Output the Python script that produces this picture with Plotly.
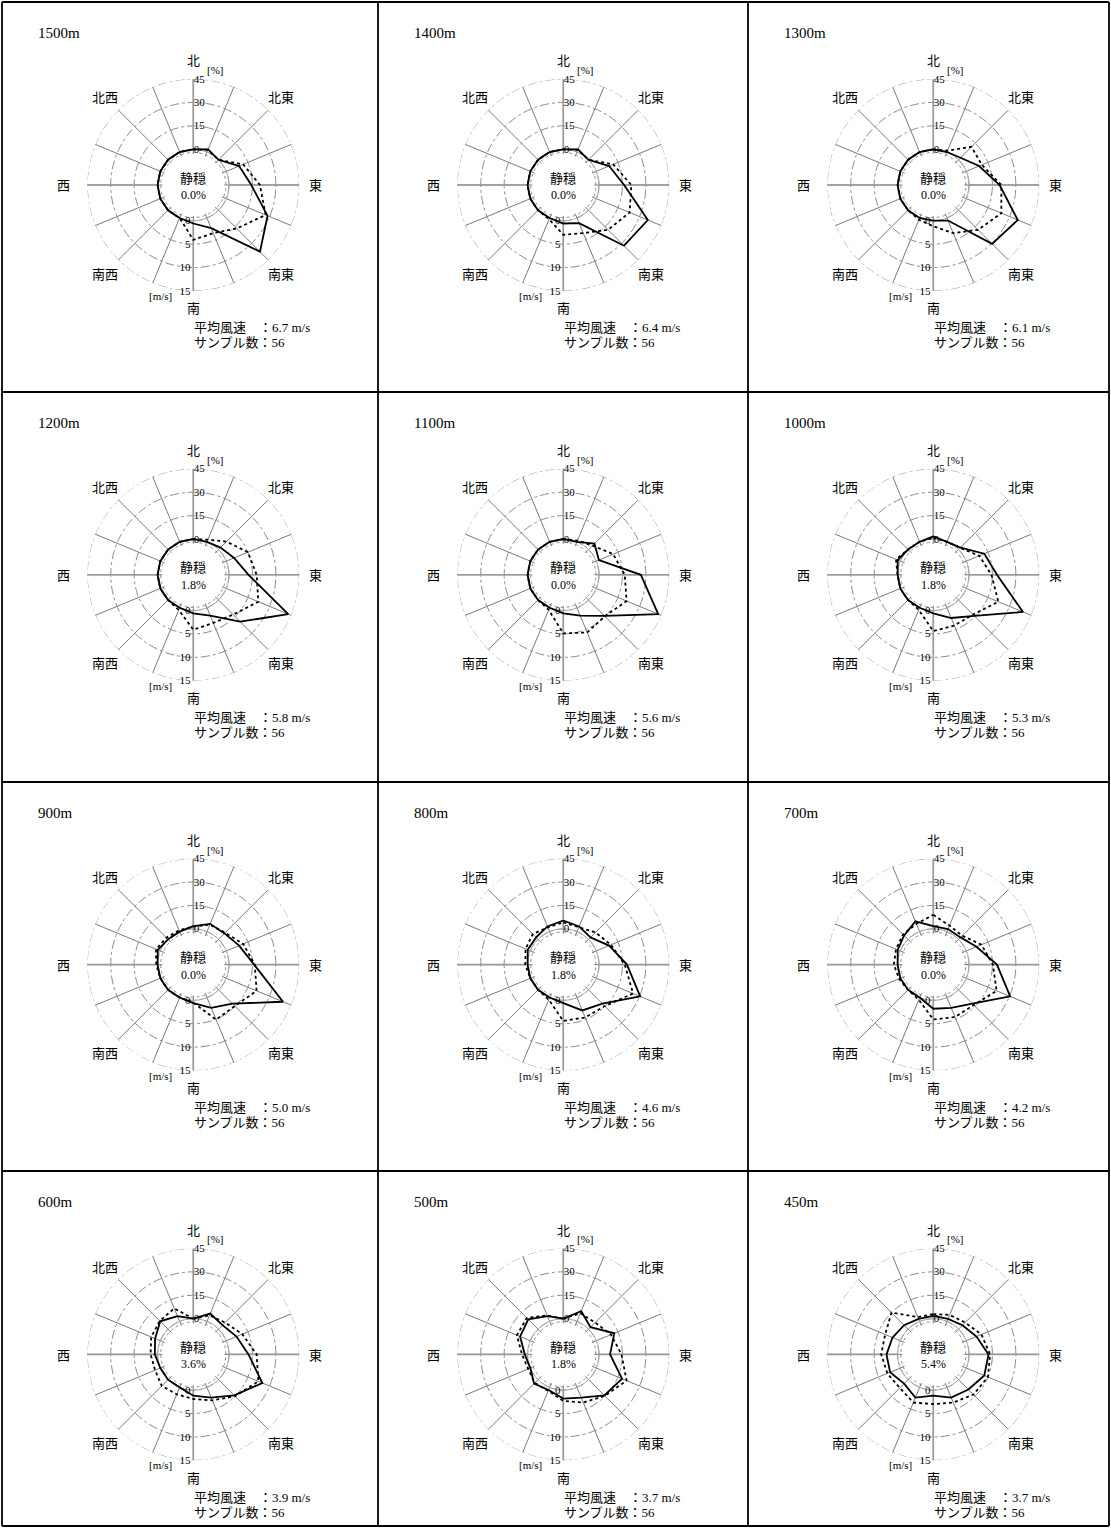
import numpy as np
import plotly.graph_objects as go

# Canvas
W, H = 1111, 1528

# 16 compass directions, clockwise from north
DIR_DEG = [0, 22.5, 45, 67.5, 90, 112.5, 135, 157.5,
           180, 202.5, 225, 247.5, 270, 292.5, 315, 337.5]
# compass labels and their offsets from the rose centre (px)
COMPASS_TEXT = ["北", "北東", "東", "南東", "南", "南西", "西", "北西"]
COMPASS_DX = [0, 88, 122, 88, 0, -88, -130, -88]
COMPASS_DY = [-125, -88, 0, 88, 123, 88, 0, -88]

FREQ_TICKS = [0, 15, 30, 45]      # [%]
SPEED_TICKS = [0, 5, 10, 15]      # [m/s]

HEIGHTS = ["1500m", "1400m", "1300m", "1200m", "1100m", "1000m",
           "900m", "800m", "700m", "600m", "500m", "450m"]
CALM = [0.0, 0.0, 0.0, 1.8, 0.0, 1.8, 0.0, 1.8, 0.0, 3.6, 1.8, 5.4]
MEAN_SPEED = [6.7, 6.4, 6.1, 5.8, 5.6, 5.3, 5.0, 4.6, 4.2, 3.9, 3.7, 3.7]
SAMPLES = [56] * 12

# Frequency of appearance [%] per direction (N, NNE, ... NNW)
FREQ_1500 = [0, 1.8, 0, 8.9, 14.3, 28.6, 37.5, 7.1, 1.8, 0, 0, 0, 0, 0, 0, 0]
FREQ_1400 = [0, 1.8, 0, 8.9, 16.1, 35.7, 32.1, 3.6, 1.8, 0, 0, 0, 0, 0, 0, 0]
FREQ_1300 = [0, 0, 1.8, 8.9, 19.6, 35.7, 30.4, 1.8, 0, 0, 0, 0, 0, 0, 0, 0]
FREQ_1200 = [0, 0, 1.8, 5.4, 12.5, 42.9, 19.6, 5.4, 1.8, 0, 0, 0, 0, 0, 0, 0]
FREQ_1100 = [0, 0, 5.4, 1.8, 26.8, 42.9, 14.3, 5.4, 1.8, 0, 0, 0, 0, 0, 0, 0]
FREQ_1000 = [1.8, 0, 1.8, 12.5, 17.9, 39.3, 14.3, 7.1, 1.8, 0, 0, 0, 0, 1.8, 0, 0]
FREQ_900 = [1.8, 5.4, 5.4, 8.9, 16.1, 39.3, 12.5, 7.1, 1.8, 0, 0, 0, 0, 1.8, 0, 0]
FREQ_800 = [5.4, 3.6, 1.8, 8.9, 17.9, 30.4, 12.5, 8.9, 1.8, 0, 0, 0, 0, 1.8, 1.8, 3.6]
FREQ_700 = [1.8, 1.8, 1.8, 7.1, 17.9, 30.4, 12.5, 7.1, 5.4, 0, 0, 0, 0, 1.8, 3.6, 7.1]
FREQ_600 = [0, 5.4, 3.6, 7.1, 12.5, 25.0, 14.3, 7.1, 3.6, 0, 0, 0, 1.8, 3.6, 7.1, 3.6]
FREQ_500 = [0, 7.1, 1.8, 12.5, 7.1, 17.9, 14.3, 7.1, 5.4, 1.8, 3.6, 0, 1.8, 7.1, 8.9, 3.6]
FREQ_450 = [1.8, 1.8, 3.6, 7.1, 12.5, 12.5, 8.9, 7.1, 3.6, 7.1, 3.6, 7.1, 7.1, 5.4, 3.6, 1.8]

# Mean wind speed [m/s] per direction
SPEED_1500 = [0, 0.5, 0, 3.9, 6.6, 9.1, 5.5, 3.5, 4.1, 0, 0, 0, 0, 0, 0, 0]
SPEED_1400 = [0, 0.5, 0, 3.9, 6.9, 7.7, 5.9, 3.5, 3.0, 0.3, 0, 0, 0, 0, 0, 0]
SPEED_1300 = [0, 0.3, 3.9, 3.6, 6.9, 8.1, 5.9, 3.5, 1.2, 0.4, 0, 0, 0, 0, 0, 0]
SPEED_1200 = [0, 0.5, 2.4, 5.0, 5.9, 7.4, 4.4, 3.5, 4.1, 0.5, 0, 0, 0, 0, 0, 0]
SPEED_1100 = [0, 0.3, 1.2, 3.9, 5.5, 7.0, 4.9, 5.7, 4.9, 0.5, 0, 0, 0, 0, 0, 0]
SPEED_1000 = [0.3, 0, 0.5, 3.0, 4.8, 7.4, 4.4, 4.1, 4.4, 0.5, 0, 0, 0, 1.0, 0, 0]
SPEED_900 = [0.5, 1.6, 2.0, 3.9, 5.5, 7.0, 4.9, 5.1, 0.5, 0, 0, 0, 0.3, 1.0, 0.5, 0.3]
SPEED_800 = [1.4, 1.0, 2.1, 3.4, 5.5, 8.5, 4.9, 4.6, 4.4, 0.5, 0, 0, 0.5, 1.1, 1.6, 1.0]
SPEED_700 = [3.0, 1.4, 1.1, 3.5, 5.1, 7.0, 4.6, 4.5, 4.1, 0.5, 0, 0.3, 0.8, 1.0, 1.5, 1.8]
SPEED_600 = [0, 1.4, 2.0, 3.7, 5.9, 7.4, 5.0, 3.0, 1.9, 1.6, 1.9, 1.2, 1.5, 2.1, 2.5, 3.0]
SPEED_500 = [0, 1.9, 2.0, 3.4, 4.8, 7.0, 4.9, 3.5, 2.3, 0.8, 1.0, 0.5, 1.2, 3.1, 3.4, 1.4]
SPEED_450 = [1.0, 1.5, 2.0, 3.5, 4.5, 5.0, 4.5, 3.5, 3.0, 3.5, 2.5, 3.0, 3.5, 3.5, 5.0, 1.0]

FREQS = [FREQ_1500, FREQ_1400, FREQ_1300, FREQ_1200, FREQ_1100, FREQ_1000,
         FREQ_900, FREQ_800, FREQ_700, FREQ_600, FREQ_500, FREQ_450]
SPEEDS = [SPEED_1500, SPEED_1400, SPEED_1300, SPEED_1200, SPEED_1100, SPEED_1000,
          SPEED_900, SPEED_800, SPEED_700, SPEED_600, SPEED_500, SPEED_450]

# Layout geometry (pixels)
COL_CX = [193.3, 563.3, 933.3]
ROW_CY = [185.0, 574.8, 964.6, 1354.4]
R_OUT = 106.0
HOLE = 31.0 / R_OUT
COL_EDGES = [2, 378, 748, 1109]
ROW_EDGES = [2, 392, 782, 1171, 1526]

FONT = "Liberation Serif, 'Noto Sans CJK JP', serif"
CJK = "'Noto Sans CJK JP', sans-serif"
GRID = "#8c8c8c"
SPOKE = "#7a7a7a"
AXIS = "#9a9a9a"

FREQ_MIN = -3.0          # radial range start: the zero ring sits just outside the hole
SPEED_MIN = FREQ_MIN / 3.0
RING_THETA = list(np.arange(0, 361, 2.0))   # full turn for drawn circles


def px_x(v):
    return v / W


def px_y(v):
    return 1 - v / H


def ring(r, subplot, color, width, dash):
    return go.Scatterpolar(r=[r] * len(RING_THETA), theta=RING_THETA, mode="lines",
                           line=dict(color=color, width=width, dash=dash),
                           hoverinfo="skip", subplot=subplot)


fig = go.Figure()
layout = dict(
    width=W, height=H,
    margin=dict(l=0, r=0, t=0, b=0),
    paper_bgcolor="white", plot_bgcolor="white",
    showlegend=False,
    font=dict(family=FONT, color="black"),
)
annotations = []
shapes = []

for i, name in enumerate(HEIGHTS):
    row, col = divmod(i, 3)
    cx, cy = COL_CX[col], ROW_CY[row]
    dom = dict(x=[px_x(cx - R_OUT), px_x(cx + R_OUT)],
               y=[px_y(cy + R_OUT), px_y(cy - R_OUT)])
    pa = f"polar{2 * i + 1}" if i else "polar"
    pb = f"polar{2 * i + 2}"
    layout[pa] = dict(
        domain=dom, hole=HOLE, bgcolor="rgba(0,0,0,0)",
        radialaxis=dict(range=[FREQ_MIN, 45], angle=90, tickangle=90,
                        tickvals=FREQ_TICKS,
                        ticks="", showline=False, gridcolor=GRID, gridwidth=0.8,
                        griddash="dashdot",
                        tickfont=dict(family=FONT, size=11, color="black")),
        angularaxis=dict(rotation=90, direction="clockwise", tickvals=DIR_DEG,
                         showticklabels=False, ticks="", showline=False,
                         gridcolor=SPOKE, gridwidth=0.7),
    )
    layout[pb] = dict(
        domain=dom, hole=HOLE, bgcolor="rgba(0,0,0,0)",
        radialaxis=dict(range=[SPEED_MIN, 15], angle=270, tickangle=-90,
                        tickvals=SPEED_TICKS,
                        ticks="", showline=False, showgrid=False,
                        tickfont=dict(family=FONT, size=11, color="black")),
        angularaxis=dict(rotation=90, direction="clockwise", visible=False),
    )
    # outer ring, zero ring and dotted calm-zone circle
    fig.add_trace(ring(45, pa, GRID, 0.9, "dashdot"))
    fig.add_trace(ring(0, pa, "#a8a8a8", 1, "solid"))
    fig.add_trace(ring(-2.0, pa, "#8a8a8a", 1, "dot"))
    # main compass axes (N-S, E-W)
    for th in (0, 90, 180, 270):
        fig.add_trace(go.Scatterpolar(r=[0, 45], theta=[th, th], mode="lines",
                                      line=dict(color=AXIS, width=1.6),
                                      hoverinfo="skip", subplot=pa))
    # frequency polygon
    f = FREQS[i]
    fig.add_trace(go.Scatterpolar(r=f + f[:1], theta=DIR_DEG + DIR_DEG[:1],
                                  mode="lines", line=dict(color="black", width=1.8),
                                  subplot=pa))
    # speed polygon
    s = SPEEDS[i]
    fig.add_trace(go.Scatterpolar(r=s + s[:1], theta=DIR_DEG + DIR_DEG[:1],
                                  mode="lines",
                                  line=dict(color="black", width=1.8, dash="dot"),
                                  subplot=pb))

    for txt, dx, dy in zip(COMPASS_TEXT, COMPASS_DX, COMPASS_DY):
        annotations.append(dict(x=px_x(cx + dx), y=px_y(cy + dy), text=txt,
                                showarrow=False, xanchor="center", yanchor="middle",
                                font=dict(family=CJK, size=13)))

    annotations += [
        dict(x=px_x(COL_EDGES[col] + 34), y=px_y(ROW_EDGES[row] + 31), text=name,
             showarrow=False, xanchor="left", yanchor="middle",
             font=dict(family=FONT, size=15)),
        dict(x=px_x(cx), y=px_y(cy - 8), text="静穏", showarrow=False,
             xanchor="center", yanchor="middle", font=dict(family=CJK, size=13)),
        dict(x=px_x(cx), y=px_y(cy + 10), text=f"{CALM[i]:.1f}%", showarrow=False,
             xanchor="center", yanchor="middle", font=dict(family=FONT, size=12)),
        dict(x=px_x(cx + 12), y=px_y(cy - 115), text="[%]", showarrow=False,
             xanchor="left", yanchor="middle", font=dict(family=FONT, size=11)),
        dict(x=px_x(cx - 19), y=px_y(cy + 111), text="[m/s]", showarrow=False,
             xanchor="right", yanchor="middle", font=dict(family=FONT, size=11)),
        dict(x=px_x(cx - 1), y=px_y(cy + 143),
             text=f"平均風速　：{MEAN_SPEED[i]:.1f} m/s", showarrow=False,
             xanchor="left", yanchor="middle", font=dict(family=FONT, size=13)),
        dict(x=px_x(cx - 1), y=px_y(cy + 158), text=f"サンプル数：{SAMPLES[i]}",
             showarrow=False, xanchor="left", yanchor="middle",
             font=dict(family=FONT, size=13)),
    ]

# panel frames
for x in COL_EDGES:
    shapes.append(dict(type="line", xref="paper", yref="paper",
                       x0=px_x(x), x1=px_x(x), y0=px_y(ROW_EDGES[0]), y1=px_y(ROW_EDGES[-1]),
                       line=dict(color="black", width=1.8)))
for y in ROW_EDGES:
    shapes.append(dict(type="line", xref="paper", yref="paper",
                       x0=px_x(COL_EDGES[0]), x1=px_x(COL_EDGES[-1]), y0=px_y(y), y1=px_y(y),
                       line=dict(color="black", width=1.8)))

layout["annotations"] = annotations
layout["shapes"] = shapes
fig.update_layout(**layout)
fig.write_html("out.html")
